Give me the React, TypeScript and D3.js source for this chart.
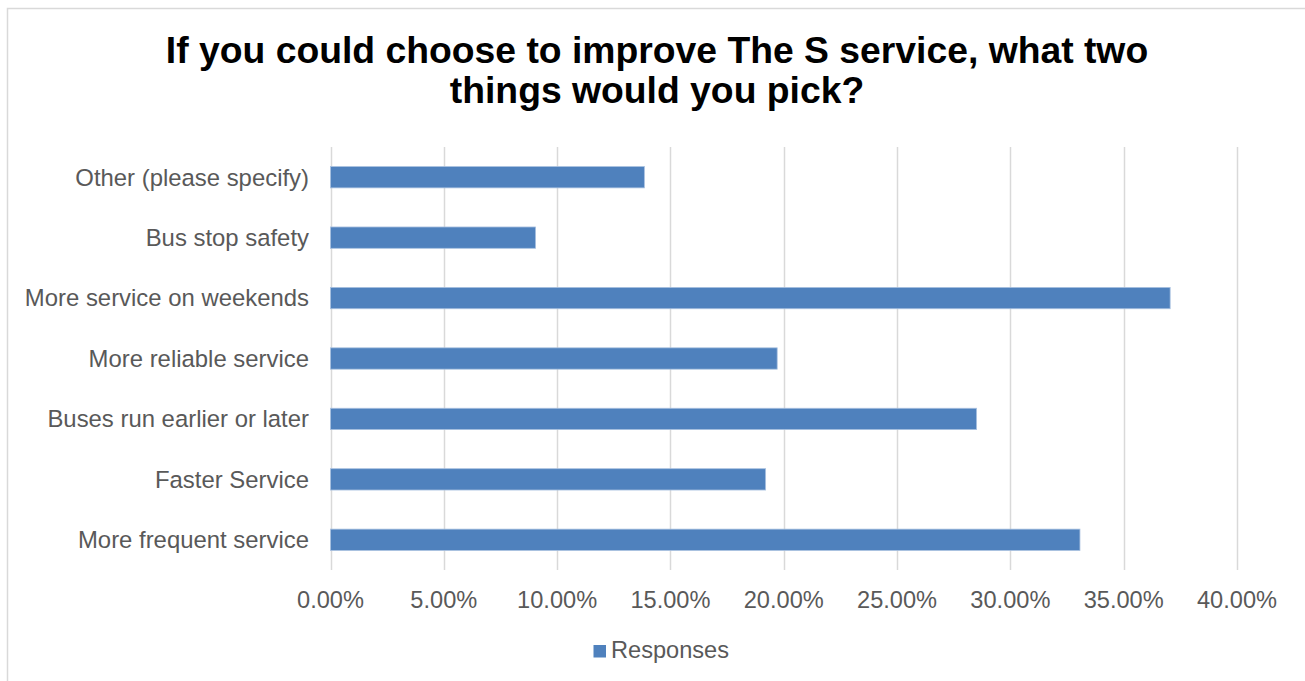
import React from "react";
import * as d3 from "d3";

const categories = [
  "Other (please specify)",
  "Bus stop safety",
  "More service on weekends",
  "More reliable service",
  "Buses run earlier or later",
  "Faster Service",
  "More frequent service",
];
const responses = [0.1385, 0.0905, 0.3705, 0.1971, 0.2851, 0.192, 0.3307];
const xTicks = [0, 0.05, 0.1, 0.15, 0.2, 0.25, 0.3, 0.35, 0.4];
const titleLines = [
  "If you could choose to improve The S service, what two",
  "things would you pick?",
];
const seriesName = "Responses";

const W = 1305;
const H = 681;
const FONT = "'Liberation Sans', Arial, sans-serif";

export default function App() {
  const x = d3.scaleLinear().domain([0, 0.4]).range([330.5, 1237]);
  const y = d3
    .scaleBand<string>()
    .domain(categories)
    .range([147, 570])
    .paddingInner(0.647)
    .paddingOuter(0.3235);
  const fmt = d3.format(".2%");

  return (
    <svg
      width={W}
      height={H}
      style={{ position: "absolute", left: 0, top: 0, background: "#fff" }}
    >
      <rect x={7.5} y={8.5} width={1500} height={900} fill="#fff" stroke="#d9d9d9" strokeWidth={1.5} />
      {titleLines.map((t, i) => (
        <text
          key={i}
          x={657}
          y={62.5 + i * 40.5}
          textAnchor="middle"
          fontFamily={FONT}
          fontWeight="bold"
          fontSize={37.3}
          fill="#000"
        >
          {t}
        </text>
      ))}
      {xTicks.map((t) => (
        <line
          key={"g" + t}
          x1={Math.round(x(t)) + 0.5}
          x2={Math.round(x(t)) + 0.5}
          y1={147}
          y2={570}
          stroke="#d9d9d9"
          strokeWidth={1.5}
        />
      ))}
      {categories.map((c, i) => (
        <rect
          key={c}
          x={x(0)}
          y={y(c)!}
          width={x(responses[i]) - x(0)}
          height={y.bandwidth()}
          fill="#4f81bd"
          stroke="#a9c1e0"
          strokeWidth={0.8}
        />
      ))}
      {categories.map((c) => (
        <text
          key={"l" + c}
          x={309}
          y={y(c)! + y.bandwidth() / 2}
          dy="0.35em"
          textAnchor="end"
          fontFamily={FONT}
          fontSize={23.9}
          fill="#595959"
        >
          {c}
        </text>
      ))}
      {xTicks.map((t) => (
        <text
          key={"t" + t}
          x={x(t)}
          y={607.5}
          textAnchor="middle"
          fontFamily={FONT}
          fontSize={23.6}
          fill="#595959"
        >
          {fmt(t)}
        </text>
      ))}
      <rect x={593.5} y={645} width={12.5} height={12.5} fill="#4f81bd" />
      <text x={611} y={658.3} fontFamily={FONT} fontSize={23.6} fill="#595959">
        {seriesName}
      </text>
    </svg>
  );
}
